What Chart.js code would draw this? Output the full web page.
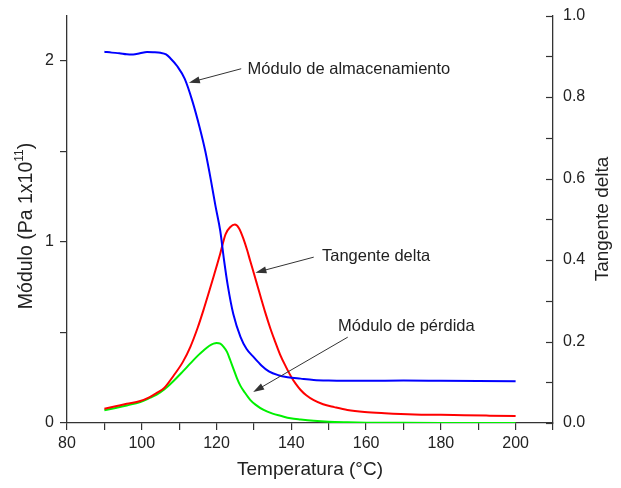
<!DOCTYPE html>
<html lang="es">
<head>
<meta charset="UTF-8">
<title>Módulo y tangente delta</title>
<script src="https://cdn.jsdelivr.net/npm/chart.js@4.4.1/dist/chart.umd.min.js"></script>
<style>
    html, body { margin: 0; padding: 0; background: #fff; }
    #contenedor { width: 621px; height: 488px; }
</style>
</head>
<body>
<div id="contenedor"><canvas id="grafico" width="621" height="488"></canvas></div>
<script>
    // Módulo de almacenamiento (eje izquierdo, Pa x 10^11)
    const tempAlmac = [90, 92, 94, 96, 97.7, 99.5, 101.4, 103, 105, 106.5, 107.6, 109.5, 111.5, 113.5, 115.5, 117, 118.5, 119.7, 121, 122, 123, 124.5, 126.4, 128, 130, 132, 134, 136.5, 139, 142.5, 146, 150, 160, 170, 180, 190, 200];
    const moduloAlmac = [2.05, 2.045, 2.042, 2.036, 2.035, 2.041, 2.048, 2.047, 2.044, 2.035, 2.015, 1.97, 1.9, 1.78, 1.63, 1.5, 1.34, 1.2, 1.06, 0.9, 0.76, 0.6, 0.476, 0.41, 0.362, 0.318, 0.285, 0.264, 0.253, 0.245, 0.238, 0.235, 0.233, 0.234, 0.233, 0.232, 0.231];

    // Tangente delta (eje derecho)
    const tempTan = [90, 93, 96, 99.6, 102, 104, 106, 108.5, 111, 113, 115, 116.5, 118, 119.2, 120.2, 121, 122.4, 123.7, 124.9, 126, 127.2, 128.2, 129, 130, 131, 132, 133, 134.4, 135.5, 137, 138.5, 140, 141.2, 142.5, 144, 146, 148.5, 151.5, 155, 159.6, 165, 172.9, 180, 186.2, 193, 200];
    const tanDelta = [0.035, 0.041, 0.047, 0.054, 0.063, 0.074, 0.086, 0.116, 0.15, 0.187, 0.235, 0.277, 0.322, 0.359, 0.39, 0.416, 0.463, 0.481, 0.487, 0.478, 0.452, 0.424, 0.398, 0.367, 0.335, 0.303, 0.272, 0.232, 0.204, 0.168, 0.139, 0.113, 0.096, 0.081, 0.068, 0.056, 0.046, 0.039, 0.032, 0.027, 0.024, 0.021, 0.02, 0.019, 0.018, 0.017];

    // Módulo de pérdida (eje izquierdo)
    const tempPerdida = [90, 93, 96, 99.6, 102, 104, 106, 108.5, 111, 113, 115, 116.6, 118, 119.2, 120, 121, 122, 122.8, 123.7, 124.6, 125.5, 126.4, 127.5, 129, 130.5, 132.6, 135, 137.1, 139.8, 142.5, 146, 150, 155, 160, 170, 180, 200];
    const moduloPerdida = [0.07, 0.083, 0.097, 0.116, 0.137, 0.157, 0.185, 0.232, 0.285, 0.329, 0.372, 0.402, 0.425, 0.438, 0.442, 0.438, 0.418, 0.393, 0.345, 0.295, 0.245, 0.205, 0.17, 0.128, 0.1, 0.072, 0.052, 0.04, 0.026, 0.019, 0.012, 0.007, 0.004, 0.002, 0.001, 0.0005, 0];

    // etiquetas de los ejes
    const etiquetasX = [80, 100, 120, 140, 160, 180, 200];
    const etiquetasIzq = [0, 1, 2];
    const etiquetasDer = ['0.0', '0.2', '0.4', '0.6', '0.8', '1.0'];

    const fuente = '"Liberation Sans", Arial, sans-serif';
    const colorTexto = '#222';

    function puntos(xs, ys) {
        return xs.map((x, i) => ({ x: x, y: ys[i] }));
    }

    // flechas y textos (en coordenadas de los datos)
    const anotaciones = [
        { texto: 'Módulo de almacenamiento', eje: 'y', tx: 128.3, ty: 1.95, x0: 126.6, y0: 1.956, x1: 112.6, y1: 1.879 },
        { texto: 'Tangente delta', eje: 'y2', tx: 148.2, ty: 0.408, x0: 146, y0: 0.407, x1: 130.4, y1: 0.369 },
        { texto: 'Módulo de pérdida', eje: 'y', tx: 152.5, ty: 0.535, x0: 155.1, y0: 0.474, x1: 129.8, y1: 0.171 }
    ];

    function flecha(ctx, xa, ya, xb, yb) {
        const ang = Math.atan2(yb - ya, xb - xa);
        const largo = 11, ancho = 3.5;
        ctx.beginPath();
        ctx.moveTo(xa, ya);
        ctx.lineTo(xb - Math.cos(ang) * largo * 0.8, yb - Math.sin(ang) * largo * 0.8);
        ctx.stroke();
        ctx.beginPath();
        ctx.moveTo(xb, yb);
        ctx.lineTo(xb - Math.cos(ang) * largo - Math.sin(ang) * ancho, yb - Math.sin(ang) * largo + Math.cos(ang) * ancho);
        ctx.lineTo(xb - Math.cos(ang) * largo + Math.sin(ang) * ancho, yb - Math.sin(ang) * largo - Math.cos(ang) * ancho);
        ctx.closePath();
        ctx.fill();
    }

    // quitar el relleno que Chart.js deja para las etiquetas extremas
    function sinRelleno(s) {
        s.paddingTop = 0;
        s.paddingBottom = 0;
    }

    const extras = {
        id: 'extras',
        afterDraw(chart) {
            const ctx = chart.ctx;
            const area = chart.chartArea;
            const sx = chart.scales.x;
            const y2 = chart.scales.y2;

            ctx.save();
            // ticks del eje derecho hacia dentro
            ctx.strokeStyle = '#333';
            ctx.lineWidth = 1.2;
            y2.ticks.forEach(t => {
                const py = Math.round(y2.getPixelForValue(t.value)) + 0.5;
                ctx.beginPath();
                ctx.moveTo(area.right, py);
                ctx.lineTo(area.right - 7, py);
                ctx.stroke();
            });

            // titulos de los ejes
            ctx.fillStyle = colorTexto;
            ctx.font = '19px ' + fuente;
            ctx.textAlign = 'center';
            ctx.textBaseline = 'middle';
            ctx.fillText('Temperatura (°C)', (area.left + area.right) / 2, 470);

            // titulo izquierdo con exponente
            ctx.save();
            ctx.translate(27, 226);
            ctx.rotate(-Math.PI / 2);
            const t1 = 'Módulo (Pa 1x10', t2 = '11', t3 = ')';
            ctx.font = '19.5px ' + fuente;
            const w1 = ctx.measureText(t1).width, w3 = ctx.measureText(t3).width;
            ctx.font = '12px ' + fuente;
            const w2 = ctx.measureText(t2).width;
            let x = -(w1 + w2 + w3) / 2;
            ctx.textAlign = 'left';
            ctx.font = '19.5px ' + fuente;
            ctx.fillText(t1, x, 0);
            ctx.font = '12px ' + fuente;
            ctx.fillText(t2, x + w1, -7);
            ctx.font = '19.5px ' + fuente;
            ctx.fillText(t3, x + w1 + w2, 0);
            ctx.restore();

            ctx.save();
            ctx.translate(603, 219);
            ctx.rotate(-Math.PI / 2);
            ctx.font = '19px ' + fuente;
            ctx.textAlign = 'center';
            ctx.fillText('Tangente delta', 0, 0);
            ctx.restore();

            // anotaciones
            ctx.font = '16.5px ' + fuente;
            ctx.textAlign = 'left';
            ctx.strokeStyle = '#333';
            ctx.fillStyle = '#333';
            ctx.lineWidth = 1;
            anotaciones.forEach(a => {
                const sy = chart.scales[a.eje];
                flecha(ctx, sx.getPixelForValue(a.x0), sy.getPixelForValue(a.y0),
                    sx.getPixelForValue(a.x1), sy.getPixelForValue(a.y1));
                ctx.fillStyle = colorTexto;
                ctx.fillText(a.texto, sx.getPixelForValue(a.tx), sy.getPixelForValue(a.ty));
                ctx.fillStyle = '#333';
            });
            ctx.restore();
        }
    };

    const ctx = document.getElementById('grafico').getContext('2d');
    new Chart(ctx, {
        type: 'line',
        data: {
            datasets: [
                {
                    label: 'Módulo de almacenamiento',
                    data: puntos(tempAlmac, moduloAlmac),
                    yAxisID: 'y',
                    borderColor: '#0000ff',
                    borderWidth: 2,
                    pointRadius: 0,
                    cubicInterpolationMode: 'monotone'
                },
                {
                    label: 'Tangente delta',
                    data: puntos(tempTan, tanDelta),
                    yAxisID: 'y2',
                    borderColor: '#ff0000',
                    borderWidth: 2,
                    pointRadius: 0,
                    cubicInterpolationMode: 'monotone'
                },
                {
                    label: 'Módulo de pérdida',
                    data: puntos(tempPerdida, moduloPerdida),
                    yAxisID: 'y',
                    borderColor: '#00f000',
                    borderWidth: 2,
                    pointRadius: 0,
                    cubicInterpolationMode: 'monotone'
                }
            ]
        },
        options: {
            responsive: false,
            animation: false,
            devicePixelRatio: 1,
            layout: { padding: { top: 15.5, left: 0, right: 0, bottom: 0 } },
            plugins: {
                legend: { display: false },
                tooltip: { enabled: false }
            },
            scales: {
                x: {
                    type: 'linear',
                    position: 'bottom',
                    min: 80,
                    max: 210,
                    afterFit: s => { s.height = 65; },
                    border: { display: true, color: '#333', width: 1.3 },
                    grid: { display: true, drawOnChartArea: false, drawTicks: true, tickLength: 7, color: '#333', lineWidth: 1.2 },
                    ticks: {
                        stepSize: 10,
                        autoSkip: false,
                        maxRotation: 0,
                        padding: 4,
                        color: colorTexto,
                        font: { family: fuente, size: 16 },
                        callback: v => etiquetasX.includes(v) ? String(v) : ''
                    }
                },
                y: {
                    position: 'left',
                    min: 0,
                    max: 2.25,
                    afterFit: s => { s.width = 67; sinRelleno(s); },
                    border: { display: true, color: '#333', width: 1.3 },
                    grid: { display: true, drawOnChartArea: false, drawTicks: true, tickLength: 7, color: '#333', lineWidth: 1.2 },
                    ticks: {
                        stepSize: 0.5,
                        includeBounds: false,
                        autoSkip: false,
                        padding: 6,
                        color: colorTexto,
                        font: { family: fuente, size: 16 },
                        callback: v => etiquetasIzq.includes(v) ? String(v) : ''
                    }
                },
                y2: {
                    position: 'right',
                    min: 0,
                    max: 1,
                    afterFit: s => { s.width = 68; sinRelleno(s); },
                    border: { display: true, color: '#333', width: 1.3 },
                    grid: { display: false, drawTicks: false },
                    ticks: {
                        stepSize: 0.1,
                        autoSkip: false,
                        padding: 10,
                        color: colorTexto,
                        font: { family: fuente, size: 16 },
                        callback: v => {
                            const s = v.toFixed(1);
                            return etiquetasDer.includes(s) ? s : '';
                        }
                    }
                }
            }
        },
        plugins: [extras]
    });
</script>
</body>
</html>
